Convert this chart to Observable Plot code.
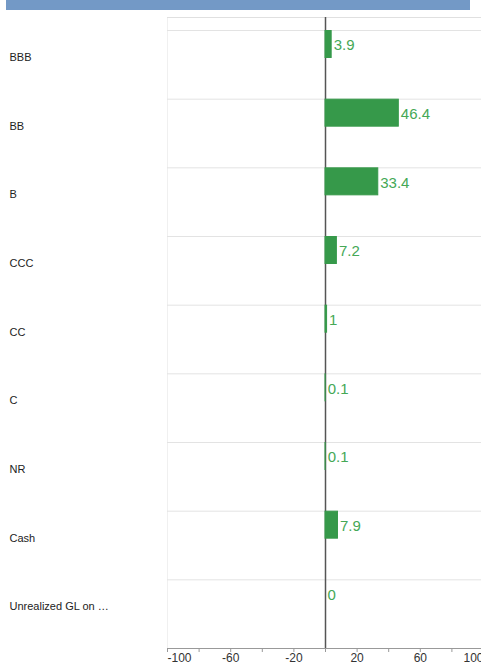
<!DOCTYPE html>
<html><head><meta charset="utf-8">
<script src="https://cdn.jsdelivr.net/npm/d3@7"></script>
<script src="https://cdn.jsdelivr.net/npm/@observablehq/plot@0.6"></script>
<style>
body{margin:0;background:#fff;font-family:"Liberation Sans",Arial,sans-serif;}
#hdr{margin-left:6px;width:464px;height:10px;background:#7399c6;}
#chart svg{display:block;overflow:hidden;}
</style></head><body>
<div id="hdr"></div>
<div id="chart"></div>
<script>
const categories = ["BBB","BB","B","CCC","CC","C","NR","Cash","Unrealized GL on …"];
const values = [3.9, 46.4, 33.4, 7.2, 1, 0.1, 0.1, 7.9, 0];
const valueLabels = ["3.9","46.4","33.4","7.2","1","0.1","0.1","7.9","0"];
const xDomain = [-100, 100];
const tickValues = [-100,-80,-60,-40,-20,0,20,40,60,80,100];
const tickLabels = [-100,-60,-20,20,60,100];

const W = 481, H = 652, mTop = 7, insetTop = 13, mBottom = 14, mLeft = 167, mRight = -2;
const step = (H - mTop - insetTop - mBottom) / categories.length;
const barH = 27;
const barColor = "#36994a", textGreen = "#45a856";
const data = categories.map((c, i) => ({cat: c, value: values[i], label: valueLabels[i]}));
const fmt = d => String(d);

const chart = Plot.plot({
  width: W, height: H,
  marginTop: mTop, marginBottom: mBottom, marginLeft: mLeft, marginRight: mRight,
  style: {fontFamily: "Liberation Sans, Arial, sans-serif", fontSize: "12px", background: "#fff"},
  x: {domain: xDomain, label: null},
  y: {domain: categories, padding: 0, round: false, insetTop: insetTop, label: null, axis: null},
  marks: [
    Plot.frame({anchor: "left", stroke: "#f0f0f0"}),
    Plot.frame({anchor: "top", stroke: "#e0e0e0"}),
    Plot.ruleY(categories, {dy: -step / 2, stroke: "#e3e3e3"}),
    Plot.ruleX([0], {stroke: "#555", strokeWidth: 1.5}),
    Plot.barX(data, {y: "cat", x: "value", fill: barColor, stroke: barColor, strokeWidth: 1, insetBottom: step - barH - 0.5, insetTop: 0.5}),
    Plot.text(data, {y: "cat", x: "value", text: "label", textAnchor: "start", dx: 2, dy: 15 - step / 2, fill: textGreen, fontSize: 15}),
    Plot.text(categories, {y: d => d, text: d => d, frameAnchor: "left", textAnchor: "start", dx: 9 - mLeft, dy: 27 - step / 2, fontSize: 11, fill: "#222"}),
    Plot.frame({anchor: "bottom", stroke: "#999"}),
    Plot.axisX(tickValues, {anchor: "bottom", tickSize: 4, tickFormat: () => "", stroke: "#999", label: null}),
    Plot.axisX(tickLabels.slice(1, -1), {anchor: "bottom", tickSize: 0, tickPadding: 5, tickFormat: fmt, fill: "#333", fontSize: 12, label: null}),
    Plot.axisX(tickLabels.slice(0, 1), {anchor: "bottom", tickSize: 0, tickPadding: 5, tickFormat: fmt, textAnchor: "start", fill: "#333", fontSize: 12, label: null}),
    Plot.axisX(tickLabels.slice(-1), {anchor: "bottom", tickSize: 0, tickPadding: 5, tickFormat: fmt, textAnchor: "end", fill: "#333", fontSize: 12, label: null})
  ]
});
document.getElementById("chart").appendChild(chart);
</script>
</body></html>
